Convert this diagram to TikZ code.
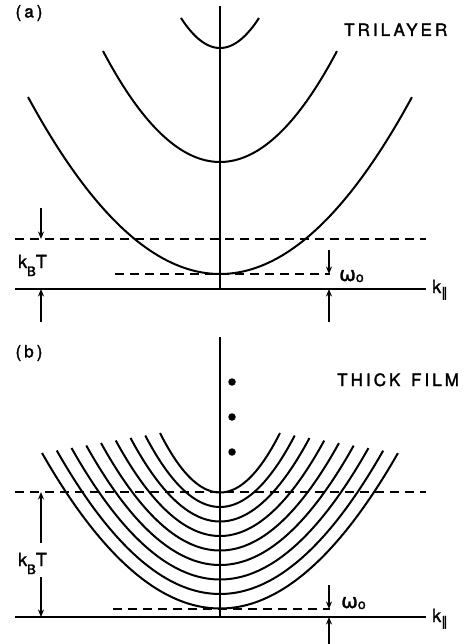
\documentclass[tikz,border=0pt]{standalone}
\usepackage{fontspec}
\setmainfont{TeX Gyre Heros}[FakeBold=1.8,AutoFakeBold=1.8]
\newfontfamily\symfont{DejaVu Sans}[FakeBold=1.5,AutoFakeBold=1.5]
\usetikzlibrary{arrows.meta}
\begin{document}
\begin{tikzpicture}[x=1pt,y=-1pt,
  curve/.style={line width=2pt},
  axis/.style={line width=1.6pt},
  dashline/.style={line width=1.4pt,dash pattern=on 9pt off 6pt},
  arr/.style={line width=1.3pt,-{Stealth[length=7.5pt,width=6pt]}},
  lbl/.style={inner sep=0pt,font=\fontsize{17}{20}\selectfont\bfseries\addfontfeature{LetterSpace=18}},
  sym/.style={inner sep=0pt,font=\fontsize{18}{20}\selectfont\bfseries},
  dotn/.style={circle,fill=black,inner sep=0pt,minimum size=7.5pt},
]
\useasboundingbox (0,0) rectangle (464,644);

% ---------------- panel (a) ----------------
\coordinate (aL) at (15,289);
\coordinate (aR) at (426,289);
\coordinate (aTop) at (220,6);
\coordinate (aBot) at (220,289);
\draw[axis] (aL) -- (aR);
\draw[axis] (aTop) -- (aBot);

\coordinate (aU1) at (15,239);
\coordinate (aU2) at (426,239);
\draw[dashline] (aU1) -- (aU2);
\coordinate (aW1) at (115,274);
\coordinate (aW2) at (330,274);
\draw[dashline] (aW1) -- (aW2);

% parabolas: vertex y, half width, end y
\foreach \yv/\w/\ye in {274/192/97, 162/117/51, 48/39/18}{
  \draw[curve] plot[domain=-1:1,samples=81,smooth] ({220+\w*\x},{\yv-(\yv-\ye)*\x*\x});
}

% arrows
\coordinate (akt1) at (41,208);
\coordinate (akt2) at (41,239);
\coordinate (akb1) at (41,322);
\coordinate (akb2) at (41,289);
\draw[arr] (akt1) -- (akt2);
\draw[arr] (akb1) -- (akb2);
\coordinate (awt1) at (329,250);
\coordinate (awt2) at (329,274);
\coordinate (awb1) at (329,322);
\coordinate (awb2) at (329,289);
\draw[arr] (awt1) -- (awt2);
\draw[arr] (awb1) -- (awb2);

\node[lbl] (labA) at (29,13) {(a)};
\node[lbl,anchor=base west] (trilayer) at (344,36) {TRILAYER};
\node[sym,anchor=base west] (kbtA) at (18,268) {k\raisebox{-8pt}{\fontsize{13}{14}\selectfont B}T};
\node[sym,anchor=base west] (omA) at (339,281) {{\symfont\fontsize{20}{22}\selectfont ω}\raisebox{-1pt}{\fontsize{14}{14}\selectfont o}};
\node[sym,anchor=base west] (kpA) at (432,293) {k\raisebox{-4pt}{\symfont\fontsize{13}{14}\selectfont ∥}};

% ---------------- panel (b) ----------------
\coordinate (bL) at (15,617);
\coordinate (bR) at (426,617);
\coordinate (bTop) at (220,337);
\coordinate (bBot) at (220,617);
\draw[axis] (bL) -- (bR);
\draw[axis] (bTop) -- (bBot);

\coordinate (bU1) at (15,492);
\coordinate (bU2) at (426,492);
\draw[dashline] (bU1) -- (bU2);
\coordinate (bW1) at (113,609);
\coordinate (bW2) at (330,609);
\draw[dashline] (bW1) -- (bW2);

\foreach \i in {0,...,8}{
  \pgfmathsetmacro{\yv}{492.5+14.5*\i}
  \pgfmathsetmacro{\w}{60+14.75*\i}
  \pgfmathsetmacro{\ye}{433+2.5*\i}
  \draw[curve] plot[domain=-1:1,samples=81,smooth] ({220+\w*\x},{\yv-(\yv-\ye)*\x*\x});
}

\node[dotn] (d1) at (232,382) {};
\node[dotn] (d2) at (232,417) {};
\node[dotn] (d3) at (232,452) {};

\node[sym,anchor=base west] (kbtB) at (18,566) {k\raisebox{-8pt}{\fontsize{13}{14}\selectfont B}T};
\coordinate (bkt1) at (41,543);
\coordinate (bkt2) at (41,492);
\coordinate (bkb1) at (41,577);
\coordinate (bkb2) at (41,617);
\draw[arr] (bkt1) -- (bkt2);
\draw[arr] (bkb1) -- (bkb2);
\coordinate (bwt1) at (329,585);
\coordinate (bwt2) at (329,609);
\coordinate (bwb1) at (329,644);
\coordinate (bwb2) at (329,617);
\draw[arr] (bwt1) -- (bwt2);
\draw[arr] (bwb1) -- (bwb2);

\node[lbl] (labB) at (29,353) {(b)};
\node[lbl,anchor=base west] (thick) at (337,386) {THICK\hspace{3pt} FILM};
\node[sym,anchor=base west] (omB) at (341,608) {{\symfont\fontsize{20}{22}\selectfont ω}\raisebox{-1pt}{\fontsize{14}{14}\selectfont o}};
\node[sym,anchor=base west] (kpB) at (432,622) {k\raisebox{-4pt}{\symfont\fontsize{13}{14}\selectfont ∥}};
\end{tikzpicture}
\end{document}
